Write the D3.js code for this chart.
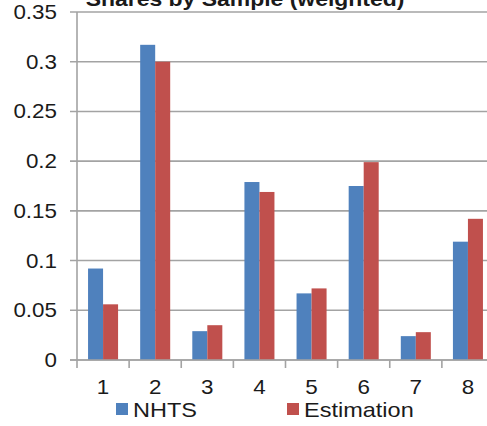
<!DOCTYPE html>
<html>
<head>
<meta charset="utf-8">
<script src="https://cdn.jsdelivr.net/npm/d3@7/dist/d3.min.js"></script>
<style>
  html, body { margin: 0; padding: 0; background: #fff; }
  svg { display: block; }
  text { font-family: "Liberation Sans", Arial, sans-serif; fill: #1a1a1a; }
</style>
</head>
<body>
<svg id="chart" width="487" height="426"></svg>
<script>
// Chart data
const categories = ["1", "2", "3", "4", "5", "6", "7", "8"];
const seriesNames = ["NHTS", "Estimation"];
const nhts = [0.092, 0.317, 0.029, 0.179, 0.067, 0.175, 0.024, 0.119];
const estimation = [0.056, 0.300, 0.035, 0.169, 0.072, 0.199, 0.028, 0.142];
const yTicks = [0, 0.05, 0.1, 0.15, 0.2, 0.25, 0.3, 0.35];
const titleText = "Shares by Sample (weighted)";

const colors = ["#4F81BD", "#C0504D"];
const values = [nhts, estimation];
const stretch = 1.12; // glyphs are drawn slightly wide

const svg = d3.select("#chart");
const plot = { left: 77, right: 494, top: 12, bottom: 360 };

const x = d3.scaleBand()
  .domain(categories)
  .range([plot.left, plot.right])
  .paddingInner(0.424)
  .paddingOuter(0.212);

const xs = d3.scaleBand()
  .domain(seriesNames)
  .range([0, x.bandwidth()]);

const y = d3.scaleLinear()
  .domain([0, 0.35])
  .range([plot.bottom, plot.top]);

// horizontal gridlines with small outside ticks
svg.append("g")
  .selectAll("line")
  .data(yTicks)
  .join("line")
  .attr("x1", plot.left - 7)
  .attr("x2", plot.right)
  .attr("y1", d => y(d))
  .attr("y2", d => y(d))
  .attr("stroke", "#A3A3A3")
  .attr("stroke-width", 1.6);

// y tick labels
svg.append("g")
  .selectAll("text")
  .data(yTicks)
  .join("text")
  .attr("transform", d => `translate(57,${y(d) + 7}) scale(${stretch},1)`)
  .attr("text-anchor", "end")
  .attr("font-size", 20)
  .text(d => d === 0 ? "0" : String(d));

// bars
const groups = svg.append("g")
  .selectAll("g")
  .data(categories)
  .join("g")
  .attr("transform", d => `translate(${x(d)},0)`);

groups.selectAll("rect")
  .data((d, i) => seriesNames.map((s, k) => ({ s, v: values[k][i], k })))
  .join("rect")
  .attr("x", d => xs(d.s))
  .attr("width", xs.bandwidth())
  .attr("y", d => y(d.v))
  .attr("height", d => y(0) - y(d.v))
  .attr("fill", d => colors[d.k]);

// y axis line
svg.append("line")
  .attr("x1", plot.left).attr("x2", plot.left)
  .attr("y1", plot.top).attr("y2", plot.bottom)
  .attr("stroke", "#A3A3A3").attr("stroke-width", 1.6);

// x axis with boundary ticks
const step = x.step();
const boundaries = d3.range(categories.length + 1).map(i => plot.left + i * step);
svg.append("line")
  .attr("x1", plot.left - 7).attr("x2", plot.right)
  .attr("y1", plot.bottom).attr("y2", plot.bottom)
  .attr("stroke", "#A3A3A3").attr("stroke-width", 1.6);
svg.append("g")
  .selectAll("line")
  .data(boundaries)
  .join("line")
  .attr("x1", d => d).attr("x2", d => d)
  .attr("y1", plot.bottom).attr("y2", plot.bottom + 8)
  .attr("stroke", "#A3A3A3").attr("stroke-width", 1.6);

// x labels
svg.append("g")
  .selectAll("text")
  .data(categories)
  .join("text")
  .attr("transform", d => `translate(${x(d) + x.bandwidth() / 2},394) scale(${stretch},1)`)
  .attr("text-anchor", "middle")
  .attr("font-size", 20)
  .text(d => d);

// legend
const legendX = [116, 287];
const legend = svg.append("g")
  .selectAll("g")
  .data(seriesNames)
  .join("g")
  .attr("transform", (d, i) => `translate(${legendX[i]},0)`);
legend.append("rect")
  .attr("x", 0).attr("y", 403)
  .attr("width", 12).attr("height", 12)
  .attr("fill", (d, i) => colors[i]);
legend.append("text")
  .attr("transform", `translate(17,416.5) scale(${stretch},1)`)
  .attr("font-size", 21)
  .text(d => d);

// title
svg.append("text")
  .attr("transform", `translate(245,5.5) scale(${stretch},1)`)
  .attr("text-anchor", "middle")
  .attr("font-size", 20.5)
  .attr("font-weight", "bold")
  .text(titleText);
</script>
</body>
</html>
